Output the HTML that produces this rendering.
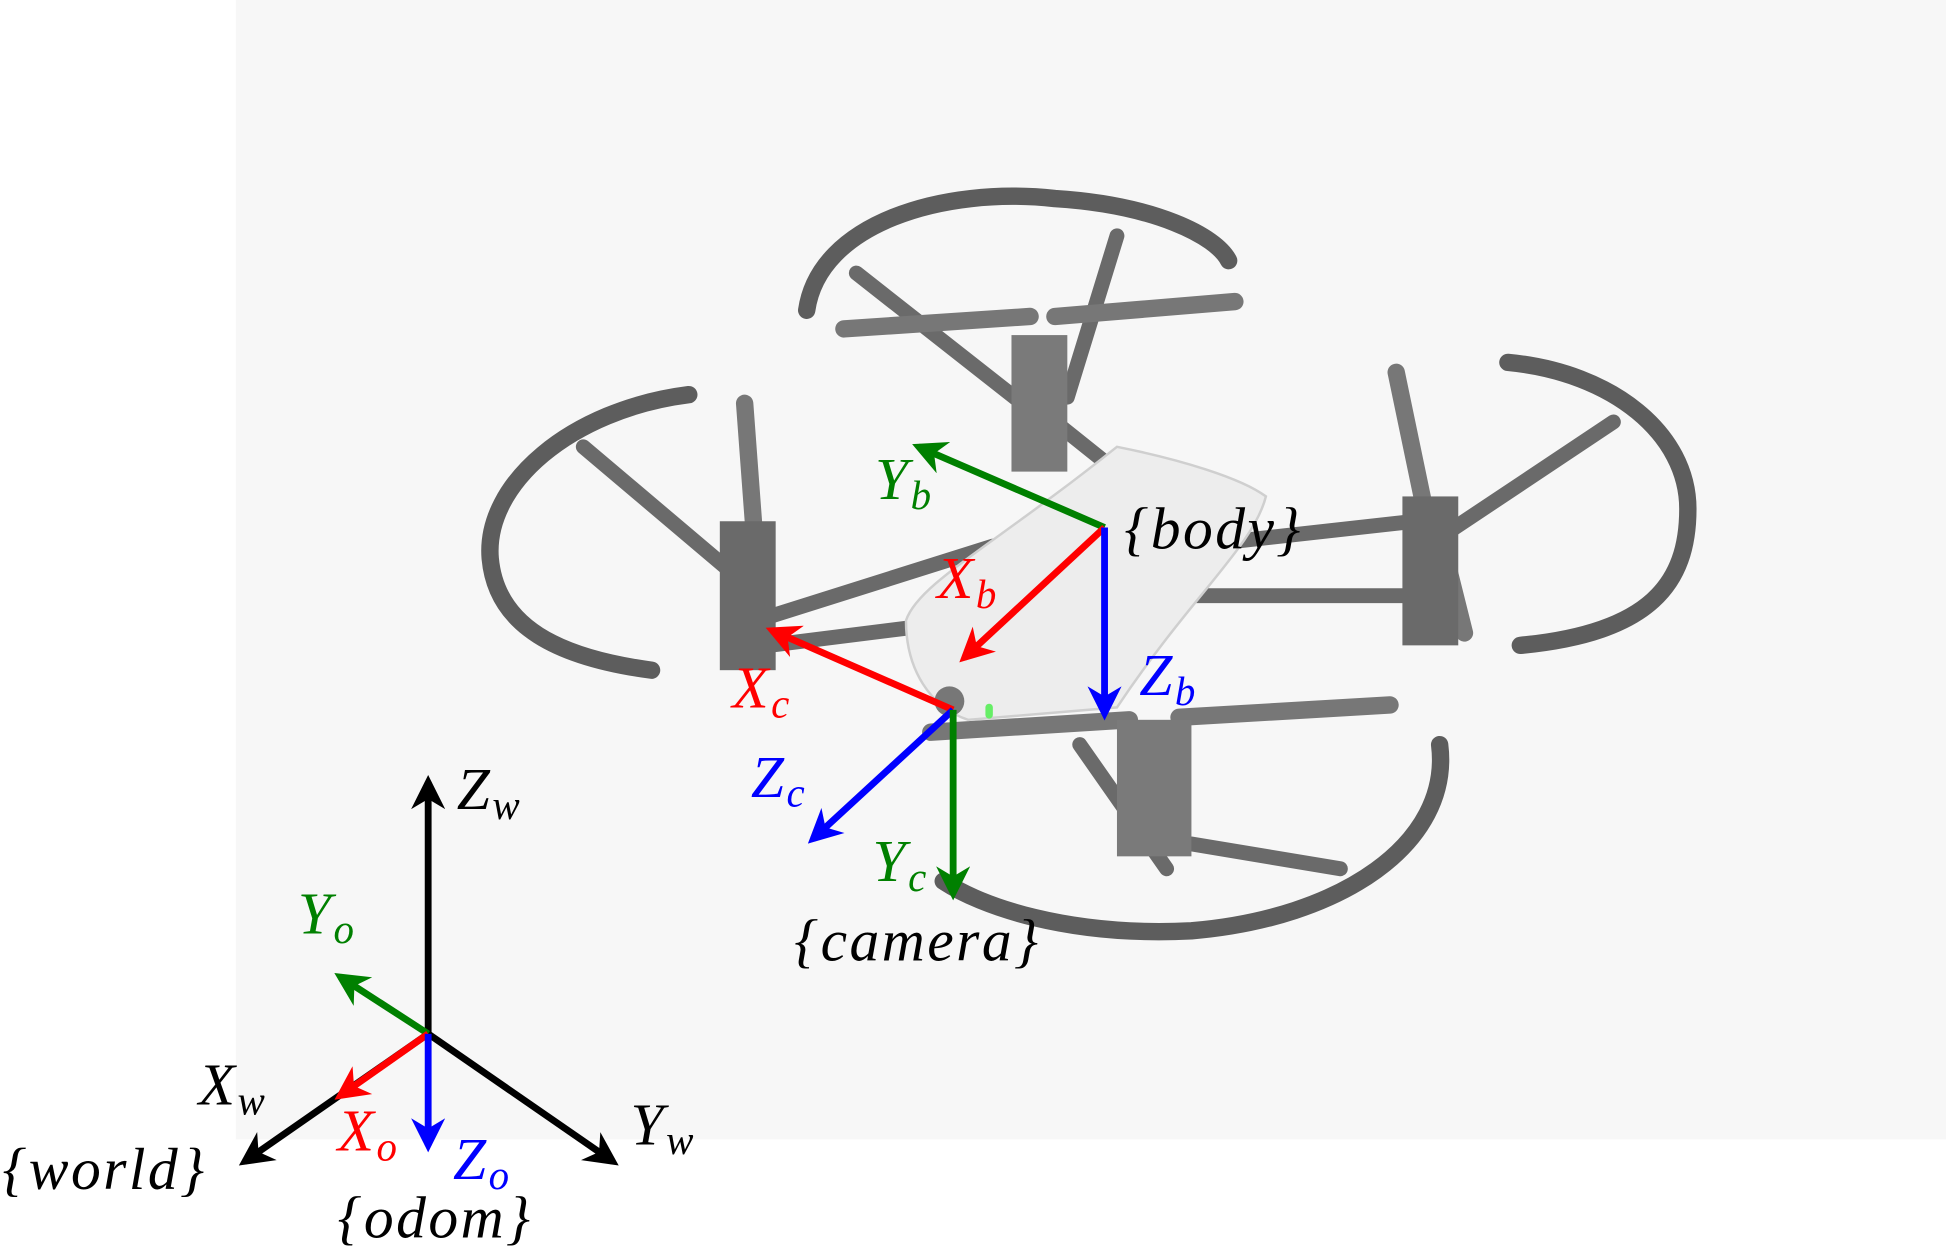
<!DOCTYPE html>
<html><head><meta charset="utf-8"><style>
html,body{margin:0;padding:0;background:#fff;}
svg{display:block;}
text{font-family:"Liberation Serif",serif;font-style:italic;}
</style></head><body>
<svg width="1946" height="1251" viewBox="0 0 1568 1008" xmlns="http://www.w3.org/2000/svg">
<defs>
<marker id="ah" viewBox="0 0 10 10" refX="8" refY="5" markerWidth="5" markerHeight="5" orient="auto" markerUnits="strokeWidth">
<path d="M0,0 L10,5 L0,10 L3,5 Z" fill="context-stroke"/>
</marker>
</defs>
<rect x="190" y="0" width="1378" height="918" fill="#f7f7f7"/>
<g fill="none" stroke="#5d5d5d" stroke-linecap="round">
 <path d="M650,250 C660,180 760,150 850,160 C930,165 980,190 990,210" stroke-width="14"/>
 <path d="M555,318 C460,330 390,390 395,450 C400,505 450,530 525,540" stroke-width="14"/>
 <path d="M1215,292 C1300,300 1360,350 1360,410 C1360,470 1330,510 1225,520" stroke-width="14"/>
 <path d="M1160,600 C1170,680 1080,740 960,750 C860,755 790,730 760,710" stroke-width="14"/>
 <g stroke-width="12" stroke="#6a6a6a">
  <path d="M690,220 L830,330"/><path d="M900,190 L860,320"/>
  <path d="M470,360 L600,470"/><path d="M1300,340 L1150,440"/>
  <path d="M870,600 L940,700"/><path d="M1080,700 L960,680"/>
  <path d="M610,500 L800,440"/><path d="M620,520 L780,500"/>
  <path d="M960,440 L1140,420"/><path d="M960,480 L1140,480"/>
  <path d="M850,340 L900,380"/>
 </g>
 <g stroke-width="14" stroke="#777">
  <path d="M680,265 L830,255"/><path d="M850,255 L995,243"/>
  <path d="M600,325 L610,460"/><path d="M595,460 L600,530"/>
  <path d="M1125,300 L1150,420"/><path d="M1160,430 L1180,510"/>
  <path d="M750,590 L910,580"/><path d="M950,578 L1120,568"/>
 </g>
 <rect x="815" y="270" width="45" height="110" fill="#7a7a7a" stroke="none"/>
 <rect x="580" y="420" width="45" height="120" fill="#6a6a6a" stroke="none"/>
 <rect x="1130" y="400" width="45" height="120" fill="#6a6a6a" stroke="none"/>
 <rect x="900" y="580" width="60" height="110" fill="#7a7a7a" stroke="none"/>
 <path d="M730,500 C740,470 800,440 900,360 C950,370 1000,385 1020,400 C1010,440 960,480 900,570 L780,580 C750,570 730,540 730,500 Z" fill="#ededed" stroke="#cfcfcf" stroke-width="2"/>
 <circle cx="765" cy="565" r="12" fill="#777" stroke="none"/>
 <rect x="794" y="567" width="6" height="12" rx="3" fill="#66ee66" stroke="none"/>
</g>
<g stroke-width="5.5" fill="none">
 <line x1="345" y1="833" x2="345" y2="630" stroke="#000" marker-end="url(#ah)"/>
 <line x1="345" y1="833" x2="197" y2="936" stroke="#000" marker-end="url(#ah)"/>
 <line x1="345" y1="833" x2="494" y2="936" stroke="#000" marker-end="url(#ah)"/>
 <line x1="345" y1="833" x2="274" y2="787" stroke="#008000" marker-end="url(#ah)"/>
 <line x1="345" y1="833" x2="274" y2="883" stroke="#ff0000" marker-end="url(#ah)"/>
 <line x1="345" y1="833" x2="345" y2="923" stroke="#0000ff" marker-end="url(#ah)"/>
 <line x1="890" y1="425" x2="740" y2="360" stroke="#008000" marker-end="url(#ah)"/>
 <line x1="890" y1="425" x2="777" y2="530" stroke="#ff0000" marker-end="url(#ah)"/>
 <line x1="890" y1="425" x2="890" y2="575" stroke="#0000ff" marker-end="url(#ah)"/>
 <line x1="768" y1="572" x2="622" y2="508" stroke="#ff0000" marker-end="url(#ah)"/>
 <line x1="768" y1="572" x2="655" y2="676" stroke="#0000ff" marker-end="url(#ah)"/>
 <line x1="768" y1="572" x2="768" y2="720" stroke="#008000" marker-end="url(#ah)"/>
</g>
<g font-size="48" letter-spacing="2">
 <text x="368" y="652" fill="#000">Z<tspan font-size="33" dy="8">w</tspan></text>
 <text x="160" y="890" fill="#000">X<tspan font-size="33" dy="8">w</tspan></text>
 <text x="508" y="922" fill="#000">Y<tspan font-size="33" dy="8">w</tspan></text>
 <text x="2" y="958" fill="#000">{world}</text>
 <text x="240" y="752" fill="#008000">Y<tspan font-size="33" dy="8">o</tspan></text>
 <text x="272" y="927" fill="#ff0000">X<tspan font-size="33" dy="8">o</tspan></text>
 <text x="365" y="950" fill="#0000ff">Z<tspan font-size="33" dy="8">o</tspan></text>
 <text x="272" y="997" fill="#000">{odom}</text>
 <text x="705" y="402" fill="#008000">Y<tspan font-size="33" dy="8">b</tspan></text>
 <text x="906" y="442" fill="#000">{body}</text>
 <text x="755" y="482" fill="#ff0000">X<tspan font-size="33" dy="8">b</tspan></text>
 <text x="918" y="560" fill="#0000ff">Z<tspan font-size="33" dy="8">b</tspan></text>
 <text x="590" y="570" fill="#ff0000">X<tspan font-size="33" dy="8">c</tspan></text>
 <text x="605" y="642" fill="#0000ff">Z<tspan font-size="33" dy="8">c</tspan></text>
 <text x="703" y="710" fill="#008000">Y<tspan font-size="33" dy="8">c</tspan></text>
 <text x="640" y="774" fill="#000">{camera}</text>
</g>
</svg>
</body></html>
